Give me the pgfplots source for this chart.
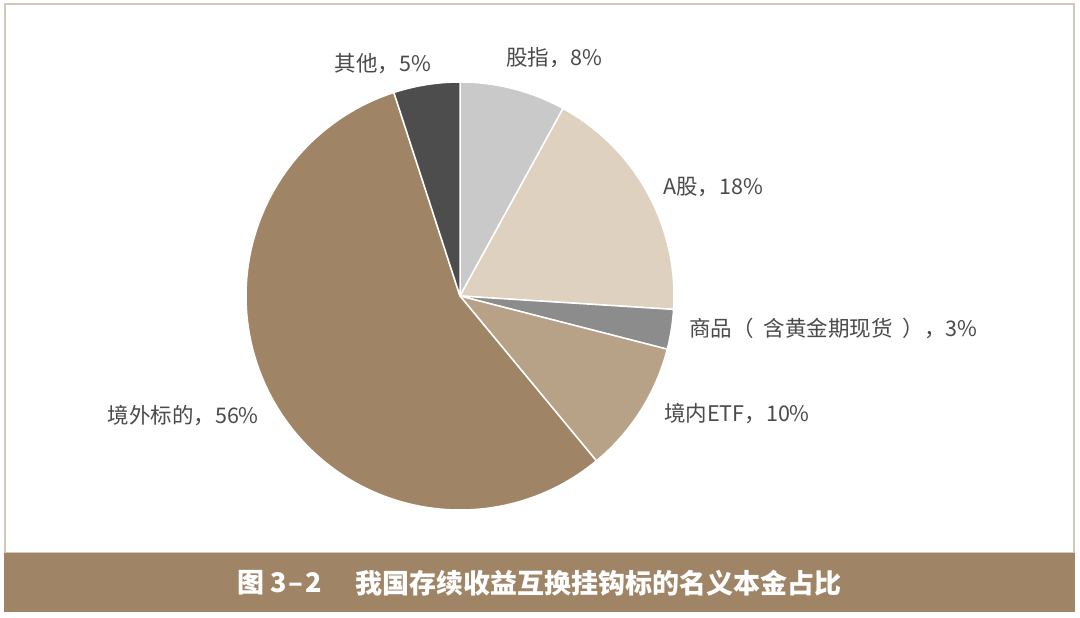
\documentclass[border=0pt]{standalone}
\usepackage{pgfplots}
\pgfplotsset{compat=1.18}
\usepackage{pgfplotstable}
\usepackage{fontspec}
\setmainfont{Noto Sans CJK SC}

\definecolor{c0}{HTML}{C9C9C9}
\definecolor{c1}{HTML}{DED1BF}
\definecolor{c2}{HTML}{8C8C8C}
\definecolor{c3}{HTML}{B8A287}
\definecolor{c4}{HTML}{A08466}
\definecolor{c5}{HTML}{4D4D4D}
\definecolor{framec}{HTML}{D3C7BA}
\definecolor{lbl}{HTML}{4A4A4A}

\pgfplotstableread{
name value
gz 8
ag 18
sp 3
etf 10
jw 56
qt 5
}\piedata

\begin{document}
\begin{tikzpicture}
\begin{axis}[
  at={(0,0)}, anchor=south west,
  width=1080pt, height=618pt, scale only axis,
  xmin=0, xmax=1080, ymin=0, ymax=618,
  hide axis, clip=false,
]
\pgfplotsextra{%
  \path[fill=white] (axis cs:0,0) rectangle (axis cs:1080,618);
  \draw[framec, line width=1.5pt] (axis cs:5,614) rectangle (axis cs:1074,65);
  \fill[c4] (axis cs:4,65) rectangle (axis cs:1075,6);
  \def\cum{0}%
  \pgfplotsforeachungrouped \i in {0,...,5}{%
    \pgfplotstablegetelem{\i}{value}\of\piedata
    \pgfmathsetmacro\aa{90-3.6*\cum}%
    \pgfmathsetmacro\bb{90-3.6*(\cum+\pgfplotsretval)}%
    \pgfmathsetmacro\cum{\cum+\pgfplotsretval}%
    \edef\tmp{\noexpand\fill[fill=c\i, draw=white, line width=1.5pt, line join=round] (axis cs:460,322) -- ++(\aa:214pt) arc[start angle=\aa, end angle=\bb, radius=214pt] -- cycle;}%
    \tmp
  }%
  \begin{scope}[every node/.style={text=lbl, inner sep=0pt, font=\fontsize{21.5pt}{25pt}\selectfont}]
    \node[anchor=west] at (axis cs:506,560) {股指，8\%};
    \node[anchor=west] at (axis cs:663,431) {A股，18\%};
    \node[anchor=west] at (axis cs:689,290) {商品（\hspace{10pt}含黄金期现货\hspace{10pt}），3\%};
    \node[anchor=west] at (axis cs:664,204) {境内ETF，10\%};
    \node[anchor=east] at (axis cs:259,202) {境外标的，56\%};
    \node[anchor=east] at (axis cs:431,554) {其他，5\%};
  \end{scope}
  \begin{scope}[every node/.style={text=white, inner sep=0pt, font=\bfseries\fontsize{27pt}{30pt}\selectfont}]
    \node[anchor=west] at (axis cs:237,35) {图 3\hspace{2pt}–\hspace{2pt}2};
    \node[anchor=west] at (axis cs:355,35) {我国存续收益互换挂钩标的名义本金占比};
  \end{scope}
}
\end{axis}
\end{tikzpicture}
\end{document}
